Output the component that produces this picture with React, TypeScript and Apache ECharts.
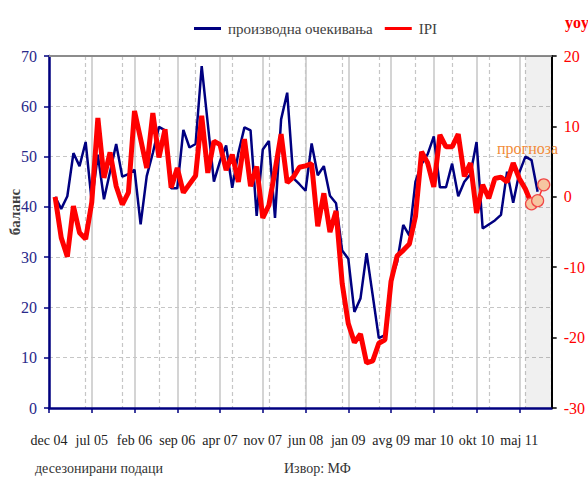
import React, { useEffect, useRef } from 'react';
import * as echarts from 'echarts';

// month index 0 = dec 04; ticks every 7 months
const tickLabels = ['dec 04', 'jul 05', 'feb 06', 'sep 06', 'apr 07', 'nov 07', 'jun 08', 'jan 09', 'avg 09', 'mar 10', 'okt 10', 'maj 11'];

// производна очекивања (balance), from jan 05 (month 1)
const expectations = [
  42, 39.6, 42.1, 50.7, 48.1, 52.9, 41, 50.4, 41.5, 47,
  52.5, 46, 46.5, 47.4, 36.5, 46.1, 50.7, 55.9, 55.2, 43.7,
  43.7, 55.3, 51.8, 52.5, 68, 56.5, 45, 49.1, 52.2, 43.8,
  50.7, 55.8, 55.2, 38.2, 51.4, 53.1, 37.8, 57.4, 62.7, 45.7,
  44.5, 43.2, 52.6, 46.3, 48.1, 42.2, 40.7, 31.3, 29.7, 19.1,
  21.8, 30.8, 22.4, 13.9, 14.5, 25.5, 29, 36.4, 34.3, 45,
  48.5, 50.5, 54, 43.9, 43.9, 48.6, 42.1, 45, 46.5, 52.9,
  35.7, 36.5, 37.3, 38.4, 47, 40.8, 46.8, 50, 49.3, 43
];

// IPI yoy, from jan 05 (month 1) to jun 11 (month 78)
const ipi = [
  0.0, -5.8, -8.5, -1.3, -5.1, -6.0, -0.8, 11.2, 2.7, 6.3,
  1.5, -1.1, 0.6, 12.2, 8.2, 4.1, 11.9, 5.6, 9.6, 1.3,
  4.1, 0.6, 1.8, 3.0, 11.5, 3.4, 7.9, 7.4, 3.8, 6.0,
  2.1, 8.2, 1.5, 4.3, -3.0, -1.2, 3.7, 8.9, 2.0, 2.8,
  4.2, 4.4, 4.7, -4.2, 0.5, -5.0, -2.0, -12.3, -18.0, -20.7,
  -19.5, -23.6, -23.3, -20.8, -20.3, -12.0, -8.4, -7.6, -6.7, -2.8,
  6.4, 4.8, 1.4, 8.8, 7.1, 7.1, 8.9, 2.9, 4.8, -2.3,
  1.7, -0.2, 2.6, 2.8, 2.1, 4.8, 2.6, 1.1
];

// прогноза: jul 11, avg 11, sep 11
const ipiForecast = [-1.0, -0.55, 1.7];
const forecastFirstMonth = 79;
const forecastShadeFrom = 78;
const axisMax = 82.3;

export default function App() {
  const ref = useRef<HTMLDivElement>(null);

  useEffect(() => {
    document.body.style.margin = '0';
    const chart = echarts.init(ref.current as HTMLDivElement, null, { renderer: 'svg' });
    const font = "'Liberation Serif', 'Times New Roman', serif";

    const blueData = expectations.map((v, i) => [i + 1, v]);
    const redData = ipi.map((v, i) => [i + 1, v]);
    redData.push([forecastFirstMonth, ipiForecast[0]]);
    const fcData = ipiForecast.map((v, i) => [forecastFirstMonth + i, v]);

    const option = {
      animation: false,
      grid: { left: 49, right: 31, top: 56, bottom: 69 },
      legend: {
        top: 16,
        left: 189,
        itemWidth: 27,
        itemHeight: 3,
        itemGap: 12,
        icon: 'rect',
        textStyle: { fontFamily: font, fontSize: 15, color: '#404040', padding: [0, 0, 0, 2] },
        data: [
          { name: 'производна очекивања', itemStyle: { color: '#000080' } },
          { name: 'IPI', itemStyle: { color: '#FF0000' } },
        ],
      },
      xAxis: [
        {
          type: 'value',
          min: 0,
          max: axisMax,
          interval: 7,
          position: 'bottom',
          axisLine: { onZero: false, lineStyle: { color: '#000080', width: 2.5 } },
          axisTick: { show: true, length: 5, lineStyle: { color: '#000080', width: 1.5 } },
          axisLabel: {
            showMaxLabel: false,
            margin: 25,
            fontFamily: font,
            fontSize: 14,
            color: '#222',
            formatter: (v: number) => (Math.abs(v % 7) < 1e-6 ? tickLabels[Math.round(v / 7)] || '' : ''),
          },
          splitLine: { show: true, lineStyle: { color: '#C6C6C6', width: 1.5 } },
        },
        {
          type: 'value',
          min: 0,
          max: axisMax,
          interval: 6,
          position: 'top',
          axisLine: { show: true, onZero: false, lineStyle: { color: '#8C8C8C', width: 2 } },
          axisTick: { show: false },
          axisLabel: { show: false },
          splitLine: { show: true, lineStyle: { color: '#C6C6C6', width: 1.2, type: [4, 3] } },
        },
      ],
      yAxis: [
        {
          type: 'value',
          min: 0,
          max: 70,
          interval: 10,
          position: 'left',
          axisLine: { show: true, onZero: false, lineStyle: { color: '#000080', width: 2.5 } },
          axisTick: { show: true, length: 5, lineStyle: { color: '#000080', width: 1.5 } },
          axisLabel: { margin: 12, fontFamily: font, fontSize: 16, color: '#29298A' },
          splitLine: { show: true, lineStyle: { color: '#C6C6C6', width: 1.2, type: [4, 3] } },
        },
        {
          type: 'value',
          min: -30,
          max: 20,
          interval: 10,
          position: 'right',
          axisLine: { show: true, onZero: false, lineStyle: { color: '#000000', width: 2 } },
          axisTick: { show: true, length: 5, lineStyle: { color: '#000000', width: 1.5 } },
          axisLabel: { margin: 12, fontFamily: font, fontSize: 16, color: '#FF0000' },
          splitLine: { show: false },
        },
      ],
      series: [
        {
          name: 'производна очекивања',
          type: 'line',
          xAxisIndex: 0,
          yAxisIndex: 0,
          data: blueData,
          symbol: 'none',
          lineStyle: { color: '#000080', width: 2.5 },
          itemStyle: { color: '#000080' },
          z: 3,
          markArea: {
            silent: true,
            itemStyle: { color: 'rgba(0,0,0,0.06)' },
            data: [[{ xAxis: forecastShadeFrom }, { xAxis: axisMax }]],
          },
        },
        {
          name: 'IPI',
          type: 'line',
          xAxisIndex: 0,
          yAxisIndex: 1,
          data: redData,
          symbol: 'none',
          lineStyle: { color: '#FF0000', width: 5 },
          itemStyle: { color: '#FF0000' },
          z: 4,
        },
        {
          name: 'прогноза',
          type: 'line',
          xAxisIndex: 0,
          yAxisIndex: 1,
          data: fcData,
          symbol: 'circle',
          symbolSize: 12,
          showAllSymbol: true,
          lineStyle: { color: '#FF3030', width: 1.5 },
          itemStyle: { color: '#F6C6A0', borderColor: '#F04848', borderWidth: 1.2 },
          z: 5,
        },
      ],
      graphic: [
        {
          type: 'text',
          x: 15,
          y: 212,
          rotation: Math.PI / 2,
          style: { text: 'баланс', fontFamily: font, fontSize: 15, fontWeight: 'bold', fill: '#404040', align: 'center', verticalAlign: 'middle' },
        },
        {
          type: 'text',
          x: 565,
          y: 22,
          style: { text: 'yoy', fontFamily: font, fontSize: 16, fontWeight: 'bold', fill: '#FF0000', align: 'left', verticalAlign: 'middle' },
        },
        {
          type: 'text',
          x: 497,
          y: 148,
          z: 10,
          style: { text: 'прогноза', fontFamily: font, fontSize: 16, fill: '#F28C3A', align: 'left', verticalAlign: 'middle' },
        },
        {
          type: 'text',
          x: 35,
          y: 468,
          style: { text: 'десезонирани подаци', fontFamily: font, fontSize: 14, fill: '#333', align: 'left', verticalAlign: 'middle' },
        },
        {
          type: 'text',
          x: 284,
          y: 468,
          style: { text: 'Извор: МФ', fontFamily: font, fontSize: 14, fill: '#333', align: 'left', verticalAlign: 'middle' },
        },
      ],
    };

    chart.setOption(option as any);
    return () => chart.dispose();
  }, []);

  return <div ref={ref} style={{ position: 'absolute', left: 0, top: 0, width: 588, height: 477 }} />;
}
